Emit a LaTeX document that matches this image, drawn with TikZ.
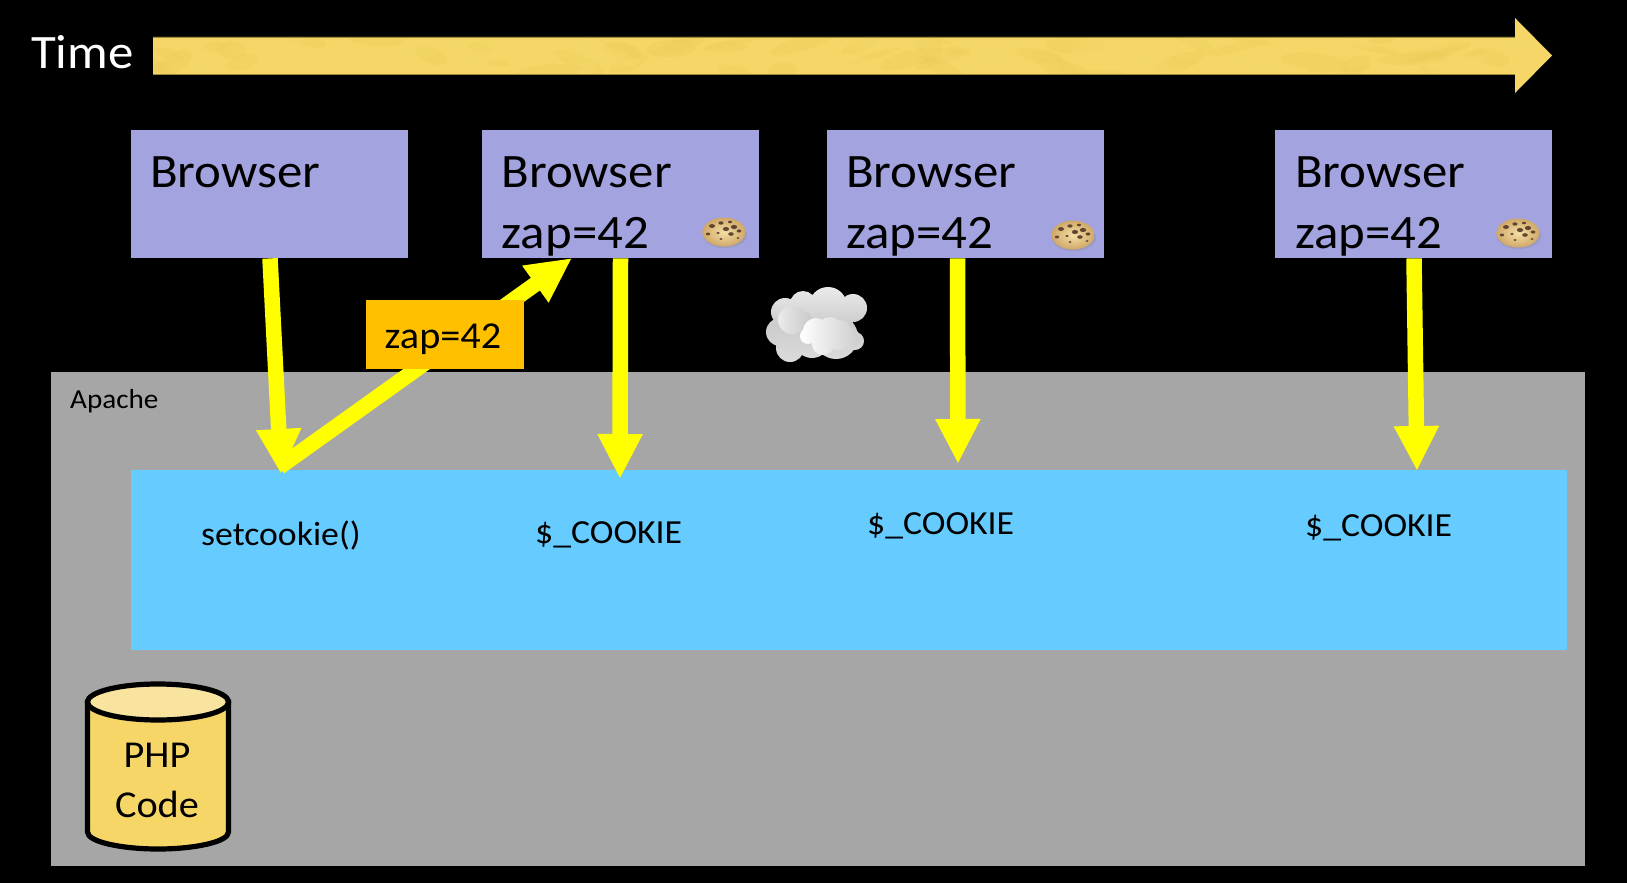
\documentclass[tikz,border=0pt]{standalone}
\usepackage{fontspec}
\setmainfont[FakeStretch=1.06]{Carlito}
\usetikzlibrary{arrows.meta,calc}
\definecolor{boxc}{HTML}{A3A3DF}
\definecolor{greyc}{HTML}{A6A6A6}
\definecolor{bluec}{HTML}{66CBFF}
\definecolor{orangec}{HTML}{FFC000}
\definecolor{flowc}{RGB}{255,255,0}
\definecolor{goldA}{HTML}{F5D666}
\definecolor{goldB}{HTML}{E8C850}
\definecolor{goldC}{HTML}{FBDD72}
\definecolor{goldedge}{HTML}{9C8A3C}
\definecolor{goldtop}{HTML}{F8E49E}
\definecolor{cookieA}{HTML}{F4DFA6}
\definecolor{cookieB}{HTML}{D0A868}
\definecolor{cookieC}{HTML}{4A3020}
\tikzset{
 x=1pt,y=-1pt,
 browser/.style={fill=boxc,draw=none,inner sep=0pt,anchor=north west,minimum width=277pt,minimum height=128pt},
 big/.style={anchor=base west,inner sep=0pt,font=\fontsize{48}{48}\selectfont},
 mid/.style={anchor=base west,inner sep=0pt,font=\fontsize{33.7}{34}\selectfont},
 flow/.style={draw=flowc,line width=15.5pt,-{Triangle[length=45pt,width=42pt,fill=flowc,color=flowc]}},
 pics/cookie/.style={code={
  \fill[black!45,opacity=.35] (1,3) ellipse [x radius=22,y radius=13];
  \shade[inner color=cookieA,outer color=cookieB] (0,0) ellipse [x radius=21.5,y radius=14.5];
  \foreach \a/\b/\r in {-12/-6/3,-3/-9/2.6,6/-10/2,2/-3/3.2,10/-5/3.2,15/-1/2.4,-16/2/2.2,7/2/2.8,-6/1/1.8,14/6/1.5,-3/7/1.6}
   {\fill[cookieC,opacity=.85] (\a,\b) ellipse [x radius=\r,y radius=\r*.65];}
 }}
}
\begin{document}
\begin{tikzpicture}
\useasboundingbox (0,0) rectangle (1627,883);
\fill[black] (0,0) rectangle (1627,883);
% time arrow
\fill[goldA] (153,37) -- (1515,37) -- (1515,18) -- (1552,55.5) -- (1515,93) -- (1515,74) -- (153,74) -- cycle;
\begin{scope}
\clip (153,37) -- (1515,37) -- (1515,18) -- (1552,55.5) -- (1515,93) -- (1515,74) -- (153,74) -- cycle;
\pgfmathsetseed{11}
\foreach \i in {1,...,110}{
  \pgfmathsetmacro{\px}{153+rnd*1400}
  \pgfmathsetmacro{\py}{37+rnd*37}
  \pgfmathsetmacro{\prx}{12+rnd*26}
  \pgfmathsetmacro{\pry}{3+rnd*7}
  \pgfmathsetmacro{\pang}{rnd*60-30}
  \pgfmathparse{rnd>0.5?1:0}
  \ifnum\pgfmathresult=1 \def\pcol{goldB}\else\def\pcol{goldC}\fi
  \fill[\pcol,opacity=.16,rotate around={\pang:(\px,\py)}] (\px,\py) ellipse [x radius=\prx,y radius=\pry];
}
\end{scope}
\draw[goldedge,line width=.8pt] (153,37) -- (1515,37) (153,74) -- (1515,74);
\node[big,text=white] (time) at (31,68) {Time};
% apache
\node[fill=greyc,inner sep=0pt,anchor=north west,minimum width=1534pt,minimum height=494pt] (apache) at (51,372) {};
\node[anchor=base west,inner sep=0pt,font=\fontsize{27.5}{28}\selectfont] (apachet) at (70,408) {Apache};
\node[fill=bluec,inner sep=0pt,anchor=north west,minimum width=1436pt,minimum height=180pt] (php) at (131,470) {};
% browsers
\node[browser] (b1) at (131,130) {};
\node[browser] (b2) at (482,130) {};
\node[browser] (b3) at (827,130) {};
\node[browser] (b4) at (1275,130) {};
\node[big] (t1) at (150,187) {Browser};
\node[big] (t2) at (501.5,187) {Browser};
\node[big] (t3) at (846,187) {Browser};
\node[big] (t4) at (1295,187) {Browser};
\node[big] (z2) at (501.5,248) {zap=42};
\node[big] (z3) at (846,248) {zap=42};
\node[big] (z4) at (1295,248) {zap=42};
\pic at (724,232) {cookie};
\pic at (1073,235) {cookie};
\pic at (1518,233) {cookie};
% cloud
\shade[top color=black!8,bottom color=black!14,middle color=black!20]
 (785,312) circle (14) (803,304) circle (13) (828,306) circle (19) (853,308) circle (14)
 (780,332) circle (14) (790,348) circle (14) (812,340) circle (18) (836,337) circle (22) (855,341) circle (9) (808,322) circle (20) (835,320) circle (18);
\shade[left color=black!8,right color=black!22] (792,320) circle (14) (802,322) circle (11);
\shade[left color=white,right color=black!20]
 (816,331) circle (13) (838,335) circle (15) (808,336) circle (8) (823,344) circle (11) (850,338) circle (10) (830,330) circle (13);
% connectors
\coordinate (a1s) at ($(b1.south west)+(139,0)$);
\coordinate (a1e) at (281,474);
\coordinate (a2s) at (279.5,467);
\coordinate (a2e) at (572,258);
\coordinate (a3s) at ($(b2.south west)+(138.5,0)$);
\coordinate (a3e) at (620,479);
\coordinate (a4s) at ($(b3.south west)+(130.5,0)$);
\coordinate (a4e) at (958,464);
\coordinate (a5s) at ($(b4.south west)+(139,0)$);
\coordinate (a5e) at (1417,471);
\draw[flow] (a1s) -- (a1e);
\draw[flow] (a2s) -- (a2e);
\draw[flow] (a3s) -- (a3e);
\draw[flow] (a4s) -- (a4e);
\draw[flow] (a5s) -- (a5e);
% cookie label
\node[fill=orangec,inner sep=0pt,anchor=north west,minimum width=158pt,minimum height=69pt] (zl) at (366,300) {};
\node[anchor=base west,inner sep=0pt,font=\fontsize{38}{38}\selectfont] (zlt) at (384.5,348) {zap=42};
% php labels
\node[mid] (c0) at (201,545) {setcookie()};
\node[mid] (c1) at (535,543) {\$\_COOKIE};
\node[mid] (c2) at (867,534) {\$\_COOKIE};
\node[mid] (c3) at (1305,536.5) {\$\_COOKIE};
% cylinder
\fill[goldA,draw=black,line width=5.2pt]
 (87.5,702) -- (87.5,832) .. controls (87.5,842) and (122,849) .. (158,849) .. controls (194,849) and (228.5,842) .. (228.5,832) -- (228.5,702) -- cycle;
\fill[goldtop,draw=black,line width=5.2pt] (158,702) ellipse [x radius=70.5,y radius=18];
\node[anchor=base,inner sep=0pt,font=\fontsize{38}{38}\selectfont] (p1) at (157,767) {PHP};
\node[anchor=base,inner sep=0pt,font=\fontsize{38}{38}\selectfont] (p2) at (157,817) {Code};
\end{tikzpicture}
\end{document}
